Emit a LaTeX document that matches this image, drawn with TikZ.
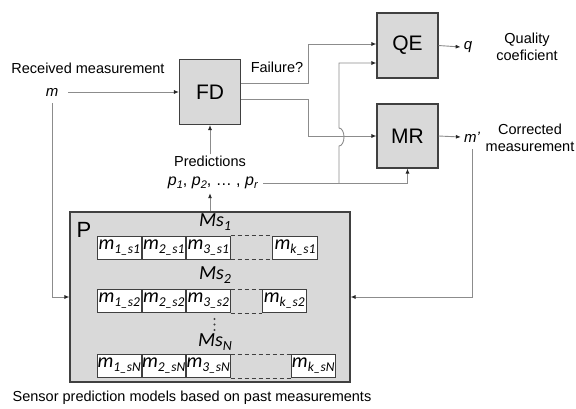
\documentclass[tikz,border=0pt]{standalone}
\usepackage{fontspec}
\setmainfont{Liberation Sans}
\newfontfamily\calib{Carlito}
\usetikzlibrary{arrows.meta,calc}
\newcommand{\pv}[1]{\textit{p}\raisebox{-3pt}{\fontsize{11}{12}\selectfont\textit{#1}}}
\newcommand{\cellm}[2]{{\calib\itshape\fontsize{20}{20}\selectfont m\raisebox{-4pt}{\fontsize{13.5}{13}\selectfont #1\_#2}}}
\newcommand{\msl}[1]{{\calib\itshape\fontsize{20}{20}\selectfont Ms\raisebox{-4pt}{\fontsize{14}{14}\selectfont #1}}}
\begin{document}
\begin{tikzpicture}[x=1pt,y=-1pt,
  blk/.style={draw=black!75, fill=black!15, line width=1.1pt, minimum width=61pt, minimum height=65pt, inner sep=0pt, font=\fontsize{21}{24}\selectfont},
  conn/.style={draw=black!45, line width=0.9pt},
  arr/.style={conn, -{Latex[length=5pt,width=4pt,color=black!85]}},
  lbl/.style={font=\fontsize{14.5}{17}\selectfont, align=center, inner sep=1pt},
  var/.style={font=\fontsize{15}{17}\selectfont\itshape, inner sep=1pt},
  cellbox/.style={draw=black!75, fill=white, line width=1pt, minimum width=43.5pt, minimum height=23pt, inner sep=0pt, anchor=west},
  dsh/.style={draw=black!75, line width=1pt, dashed, dash pattern=on 4pt off 3pt},
  vdot/.style={fill=black!75}
]
\useasboundingbox (0,0) rectangle (576,408);

% main blocks
\node[blk] (FD) at (210,92) {FD};
\node[blk] (QE) at (407.5,45.5) {QE};
\node[blk, minimum height=64pt] (MR) at (407.5,136) {MR};

% labels
\node[lbl] (rec) at (88,68) {Received measurement};
\node[var] (m) at (52,92) {m};
\node[lbl] (fail) at (277,67) {Failure?};
\node[lbl] (predlbl) at (210,161) {Predictions};
\node[font=\fontsize{16}{18}\selectfont, inner sep=1pt] (preds) at (213,183) {\pv{1}, \pv{2}, \dots\ , \pv{r}};
\node[var] (q) at (468,47) {q};
\node[lbl] (qual) at (527,47) {Quality\\coeficient};
\node[var] (mp) at (472,137) {m'};
\node[lbl] (corr) at (530,138) {Corrected\\measurement};
\node[lbl] (cap) at (192,398) {Sensor prediction models based on past measurements};

% P block
\node[draw=black!75, fill=black!15, line width=1.1pt, minimum width=280pt, minimum height=170pt, inner sep=0pt] (P) at (210,297) {};
\node[font=\fontsize{22}{24}\selectfont, inner sep=0pt] (Plbl) at (84,230) {P};

\node[inner sep=0pt] (ms1) at (215,222) {\msl{1}};
\node[inner sep=0pt] (ms2) at (215,275) {\msl{2}};
\node[inner sep=0pt] (msN) at (215,342) {\msl{N}};
\foreach \yy in {319,324.5,330} \fill[vdot] (214.5,\yy) circle[radius=1.1];

% row 1
\node[cellbox] (a1) at (97,247.5) {\cellm{1}{s1}};
\node[cellbox] (a2) at (a1.east) {\cellm{2}{s1}};
\node[cellbox] (a3) at (a2.east) {\cellm{3}{s1}};
\node[cellbox, minimum width=45pt] (ak) at (272,247.5) {\cellm{k}{s1}};
\draw[dsh] (a3.north east) -- (ak.north west);
\draw[dsh] (a3.south east) -- (ak.south west);
% row 2
\node[cellbox] (b1) at (97,301) {\cellm{1}{s2}};
\node[cellbox] (b2) at (b1.east) {\cellm{2}{s2}};
\node[cellbox] (b3) at (b2.east) {\cellm{3}{s2}};
\node[cellbox] (bk) at (262,301) {\cellm{k}{s2}};
\draw[dsh] (b3.north east) -- (bk.north west);
\draw[dsh] (b3.south east) -- (bk.south west);
% row N
\node[cellbox] (c1) at (97,366) {\cellm{1}{sN}};
\node[cellbox] (c2) at (c1.east) {\cellm{2}{sN}};
\node[cellbox] (c3) at (c2.east) {\cellm{3}{sN}};
\node[cellbox] (ck) at (291,366) {\cellm{k}{sN}};
\draw[dsh] (c3.north east) -- (ck.north west);
\draw[dsh] (c3.south east) -- (ck.south west);

% connectors
\draw[arr] ([xshift=9pt]m.east) -- (FD.west);
\draw[arr] ([yshift=-6pt]m.south) |- (P.west);
\draw[arr] ([yshift=9pt]FD.east) -- ++(67,0) |- ([yshift=1.5pt]QE.west);
\draw[arr] ([yshift=-7pt]FD.east) -- ++(67,0) |- (MR.west);
\draw[arr] ([xshift=4pt]preds.east) -| (MR.south);
\coordinate (jn) at (preds.east -| 339,0);
\draw[arr] (jn) -- (339,146) arc[start angle=90, end angle=-90, x radius=5, y radius=9] |- ([yshift=-17.5pt]QE.west);
\draw[arr] (QE.east) -- ([xshift=-2pt]q.west);
\draw[arr] (MR.east) -- ([xshift=-2pt]mp.west);
\draw[arr] ([yshift=-6pt]mp.south) |- (P.east);
\draw[arr] (P.north) -- ([yshift=-3pt]P.north |- preds.south);
\draw[arr] (predlbl.north) -- (FD.south);
\end{tikzpicture}
\end{document}
